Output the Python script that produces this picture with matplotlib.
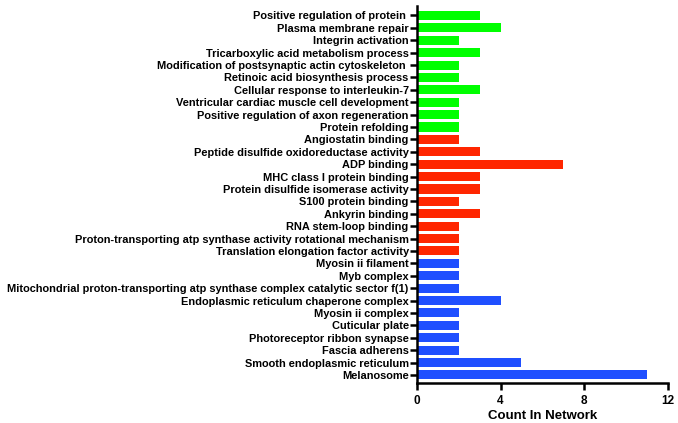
import matplotlib
matplotlib.use('Agg')
from matplotlib import pyplot as plt

plt.rcParams['font.family'] = ['Liberation Sans', 'DejaVu Sans']
plt.rcParams['font.weight'] = 'bold'

# GO terms, top to bottom
terms = ['Positive regulation of protein ', 'Plasma membrane repair', 'Integrin activation',
         'Tricarboxylic acid metabolism process', 'Modification of postsynaptic actin cytoskeleton ',
         'Retinoic acid biosynthesis process', 'Cellular response to interleukin-7',
         'Ventricular cardiac muscle cell development', 'Positive regulation of axon regeneration',
         'Protein refolding', 'Angiostatin binding', 'Peptide disulfide oxidoreductase activity',
         'ADP binding', 'MHC class I protein binding', 'Protein disulfide isomerase activity',
         'S100 protein binding', 'Ankyrin binding', 'RNA stem-loop binding',
         'Proton-transporting atp synthase activity rotational mechanism',
         'Translation elongation factor activity', 'Myosin ii filament', 'Myb complex',
         'Mitochondrial proton-transporting atp synthase complex catalytic sector f(1)',
         'Endoplasmic reticulum chaperone complex', 'Myosin ii complex', 'Cuticular plate',
         'Photoreceptor ribbon synapse', 'Fascia adherens', 'Smooth endoplasmic reticulum',
         'Melanosome']
counts = [3, 4, 2, 3, 2, 2, 3, 2, 2, 2,
          2, 3, 7, 3, 3, 2, 3, 2, 2, 2,
          2, 2, 2, 4, 2, 2, 2, 2, 5, 11]
groups = ['BP'] * 10 + ['MF'] * 10 + ['CC'] * 10
group_colors = {'BP': '#00FF00', 'MF': '#FF2600', 'CC': '#1F4FFF'}

fig = plt.figure(figsize=(6.78, 4.23), dpi=100)
ax = fig.add_axes([0.615, 0.0946, 0.37, 0.8914])

ypos = list(range(len(terms)))
colors = [group_colors[g] for g in groups]
ax.barh(ypos, counts, height=0.73, color=colors)

ax.set_yticks(ypos)
ax.set_yticklabels(terms, fontsize=7.9)
ax.set_ylim(len(terms) - 1 + 0.65, -0.77)
ax.set_xlim(0, 12)
ax.set_xticks([0, 4, 8, 12])
ax.tick_params(axis='x', labelsize=8.5, width=1.8, length=5)
ax.tick_params(axis='y', width=1.8, length=5, pad=1)
ax.set_xlabel('Count In Network', fontsize=9.5, fontweight='bold', labelpad=2)

for s in ['top', 'right']:
    ax.spines[s].set_visible(False)
for s in ['left', 'bottom']:
    ax.spines[s].set_linewidth(1.8)

fig.savefig('out.png', dpi=100)
